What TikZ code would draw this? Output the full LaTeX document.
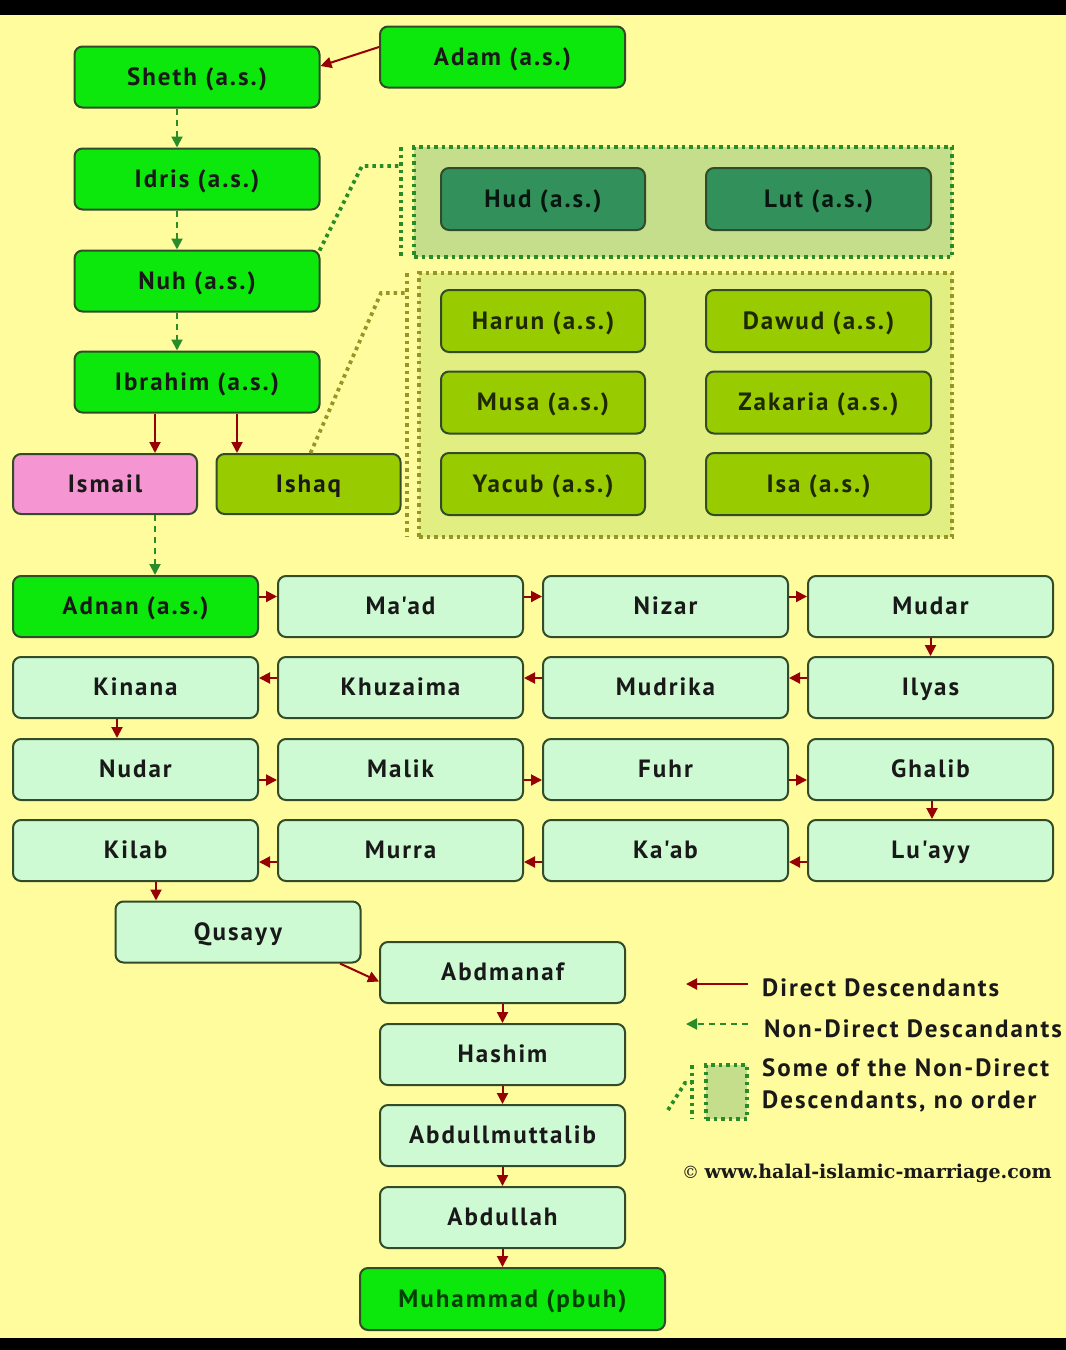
\documentclass[tikz,border=0pt]{standalone}
\usepackage{fontspec}
\newfontfamily\boxfont{PT Sans}[LetterSpace=8]
\newfontfamily\serfont{DejaVu Serif}
\usetikzlibrary{arrows.meta}
\definecolor{bgcol}{RGB}{255,252,158}
\definecolor{brgreen}{RGB}{12,232,12}
\definecolor{mint}{RGB}{205,250,210}
\definecolor{pinkc}{RGB}{245,150,210}
\definecolor{olive}{RGB}{153,204,0}
\definecolor{hudc}{RGB}{50,145,90}
\definecolor{gonefill}{RGB}{197,222,140}
\definecolor{gtwofill}{RGB}{225,238,130}
\definecolor{dotgreen}{RGB}{40,140,40}
\definecolor{dotolive}{RGB}{150,150,40}
\definecolor{bordercol}{RGB}{50,75,40}
\definecolor{arrred}{RGB}{150,0,0}
\definecolor{arrgreen}{RGB}{40,140,40}
\tikzset{
  base/.style={draw=bordercol, line width=2pt, rounded corners=8pt,
    minimum width=245pt, minimum height=61pt, inner sep=0pt,
    text height=18pt, text depth=2pt,
    font=\boxfont\bfseries\fontsize{25}{30}\selectfont, text=black!90},
  gbox/.style={base, fill=brgreen},
  mbox/.style={base, fill=mint},
  pbox/.style={base, fill=pinkc, minimum width=184pt, minimum height=60pt},
  obox/.style={base, fill=olive, minimum width=184pt, minimum height=60pt},
  ibox/.style={base, fill=olive, minimum width=204pt, minimum height=62pt, text=black!80!olive},
  iboxw/.style={ibox, minimum width=225pt},
  hbox/.style={base, fill=hudc, minimum width=204pt, minimum height=62pt, text=black!85!hudc},
  hboxw/.style={hbox, minimum width=225pt},
  direct/.style={draw=arrred, line width=2pt, -{Triangle[length=11pt,width=11pt]}},
  nondirect/.style={draw=arrgreen, line width=2pt, dash pattern=on 6pt off 5pt, -{Triangle[length=11pt,width=11pt]}},
  dotg/.style={draw=dotgreen, line width=3.8pt, dash pattern=on 3.5pt off 4pt},
  doto/.style={draw=dotolive, line width=3.8pt, dash pattern=on 3.5pt off 4pt},
  legtext/.style={anchor=west, inner sep=0pt, font=\boxfont\bfseries\fontsize{25}{30}\selectfont, text=black!90}
}
\begin{document}
\begin{tikzpicture}[x=1pt,y=-1pt]
\useasboundingbox (0,0) rectangle (1066,1350);
\fill[bgcol] (0,15) rectangle (1066,1338);
\fill[black] (0,0) rectangle (1066,15);
\fill[black] (0,1338) rectangle (1066,1350);

% groups
\node[dotg, fill=gonefill, minimum width=538pt, minimum height=110pt, inner sep=0pt] (gone) at (683,202) {};
\node[doto, fill=gtwofill, minimum width=533pt, minimum height=264pt, inner sep=0pt] (gtwo) at (685.5,405) {};
\coordinate (bonet) at (401,147); \coordinate (boneb) at (401,257);
\coordinate (btwot) at (407,273); \coordinate (btwob) at (407,537);
\draw[dotg] (bonet) -- (boneb);
\draw[doto] (btwot) -- (btwob);

% top chain
\node[gbox] (adam) at (502.5,57) {Adam (a.s.)};
\node[gbox] (sheth) at (197,77) {Sheth (a.s.)};
\node[gbox] (idris) at (197,179) {Idris (a.s.)};
\node[gbox] (nuh) at (197,281) {Nuh (a.s.)};
\node[gbox] (ibrahim) at (197,382) {Ibrahim (a.s.)};
\node[pbox] (ismail) at (105,484) {Ismail};
\node[obox] (ishaq) at (308.5,484) {Ishaq};

\node[hbox] (hud) at (543,199) {Hud (a.s.)};
\node[hboxw] (lut) at (818.5,199) {Lut (a.s.)};
\node[ibox] (harun) at (543,321) {Harun (a.s.)};
\node[iboxw] (dawud) at (818.5,321) {Dawud (a.s.)};
\node[ibox] (musa) at (543,402.5) {Musa (a.s.)};
\node[iboxw] (zakaria) at (818.5,402.5) {Zakaria (a.s.)};
\node[ibox] (yacub) at (543,484) {Yacub (a.s.)};
\node[iboxw] (isa) at (818.5,484) {Isa (a.s.)};

% grid
\node[gbox] (adnan) at (135.5,606.5) {Adnan (a.s.)};
\node[mbox] (maad) at (400.5,606.5) {Ma'ad};
\node[mbox] (nizar) at (665.5,606.5) {Nizar};
\node[mbox] (mudar) at (930.5,606.5) {Mudar};
\node[mbox] (kinana) at (135.5,687.5) {Kinana};
\node[mbox] (khuzaima) at (400.5,687.5) {Khuzaima};
\node[mbox] (mudrika) at (665.5,687.5) {Mudrika};
\node[mbox] (ilyas) at (930.5,687.5) {Ilyas};
\node[mbox] (nudar) at (135.5,769.5) {Nudar};
\node[mbox] (malik) at (400.5,769.5) {Malik};
\node[mbox] (fuhr) at (665.5,769.5) {Fuhr};
\node[mbox] (ghalib) at (930.5,769.5) {Ghalib};
\node[mbox] (kilab) at (135.5,850.5) {Kilab};
\node[mbox] (murra) at (400.5,850.5) {Murra};
\node[mbox] (kaab) at (665.5,850.5) {Ka'ab};
\node[mbox] (luayy) at (930.5,850.5) {Lu'ayy};

\node[mbox] (qusayy) at (238,932) {Qusayy};
\node[mbox] (abdmanaf) at (502.5,972.5) {Abdmanaf};
\node[mbox] (hashim) at (502.5,1054.5) {Hashim};
\node[mbox] (abdmut) at (502.5,1135.5) {Abdullmuttalib};
\node[mbox] (abdullah) at (502.5,1217.5) {Abdullah};
\node[gbox, minimum width=305pt, minimum height=62pt, text=black!75!green] (muhammad) at (512.5,1299) {Muhammad (pbuh)};

% connectors top
\draw[direct] ([yshift=10pt]adam.west) -- ([yshift=11pt]sheth.east);
\draw[nondirect] ([xshift=-20pt]sheth.south) -- ([xshift=-20pt]idris.north);
\draw[nondirect] ([xshift=-20pt]idris.south) -- ([xshift=-20pt]nuh.north);
\draw[nondirect] ([xshift=-20pt]nuh.south) -- ([xshift=-20pt]ibrahim.north);
\draw[direct] ([xshift=-42pt]ibrahim.south) -- ([xshift=50pt]ismail.north);
\draw[direct] ([xshift=40pt]ibrahim.south) -- ([xshift=-71.5pt]ishaq.north);
\draw[nondirect] ([xshift=50pt]ismail.south) -- ([xshift=19.5pt]adnan.north);

\coordinate (kone) at (362,166);
\coordinate (konee) at (401,166);
\draw[dotg] ([xshift=-1pt,yshift=-1pt]nuh.north east) -- (kone) -- (konee);
\coordinate (ktwo) at (381,293);
\coordinate (ktwoe) at (407,293);
\draw[doto] ([xshift=2pt]ishaq.north) -- (ktwo) -- (ktwoe);

% grid connectors
\draw[direct] ([yshift=10pt]adnan.east) -- ([yshift=10pt]maad.west);
\draw[direct] ([yshift=10pt]maad.east) -- ([yshift=10pt]nizar.west);
\draw[direct] ([yshift=10pt]nizar.east) -- ([yshift=10pt]mudar.west);
\draw[direct] (mudar.south) -- (ilyas.north);
\draw[direct] ([yshift=9.5pt]ilyas.west) -- ([yshift=9.5pt]mudrika.east);
\draw[direct] ([yshift=9.5pt]mudrika.west) -- ([yshift=9.5pt]khuzaima.east);
\draw[direct] ([yshift=9.5pt]khuzaima.west) -- ([yshift=9.5pt]kinana.east);
\draw[direct] ([xshift=-18.5pt]kinana.south) -- ([xshift=-18.5pt]nudar.north);
\draw[direct] ([yshift=-10.5pt]nudar.east) -- ([yshift=-10.5pt]malik.west);
\draw[direct] ([yshift=-10.5pt]malik.east) -- ([yshift=-10.5pt]fuhr.west);
\draw[direct] ([yshift=-10.5pt]fuhr.east) -- ([yshift=-10.5pt]ghalib.west);
\draw[direct] ([xshift=1.5pt]ghalib.south) -- ([xshift=1.5pt]luayy.north);
\draw[direct] ([yshift=-11.5pt]luayy.west) -- ([yshift=-11.5pt]kaab.east);
\draw[direct] ([yshift=-11.5pt]kaab.west) -- ([yshift=-11.5pt]murra.east);
\draw[direct] ([yshift=-11.5pt]murra.west) -- ([yshift=-11.5pt]kilab.east);
\draw[direct] ([xshift=20.5pt]kilab.south) -- ([xshift=-82pt]qusayy.north);
\draw[direct] ([xshift=102pt]qusayy.south) -- ([yshift=-9pt]abdmanaf.west);
\draw[direct] (abdmanaf.south) -- (hashim.north);
\draw[direct] (hashim.south) -- (abdmut.north);
\draw[direct] (abdmut.south) -- (abdullah.north);
\draw[direct] (abdullah.south) -- ([xshift=-10pt]muhammad.north);

% legend
\coordinate (lonea) at (748,984); \coordinate (loneb) at (686,984);
\draw[direct] (lonea) -- (loneb);
\coordinate (ltwoa) at (748,1024); \coordinate (ltwob) at (686,1024);
\draw[nondirect] (ltwoa) -- (ltwob);
\node[legtext] (tone) at (762,988) {Direct Descendants};
\node[legtext] (ttwo) at (764,1029) {Non-Direct Descandants};
\node[legtext] (tthree) at (762,1068) {Some of the Non-Direct};
\node[legtext] (tfour) at (762,1101) {Descendants, no order};
\coordinate (lda) at (668,1110); \coordinate (ldb) at (685,1083); \coordinate (ldc) at (692,1083);
\draw[dotg] (lda) -- (ldb) -- (ldc);
\coordinate (lva) at (692,1065); \coordinate (lvb) at (692,1119);
\draw[dotg] (lva) -- (lvb);
\node[dotg, fill=gonefill, minimum width=41pt, minimum height=54pt, inner sep=0pt] (lbox) at (726.5,1092) {};
\node[anchor=west, inner sep=0pt, text=black!90] (copy) at (682,1173) {\serfont\fontsize{17}{20}\selectfont\textcopyright\ \bfseries\fontsize{19}{22}\selectfont www.halal-islamic-marriage.com};
\end{tikzpicture}
\end{document}
